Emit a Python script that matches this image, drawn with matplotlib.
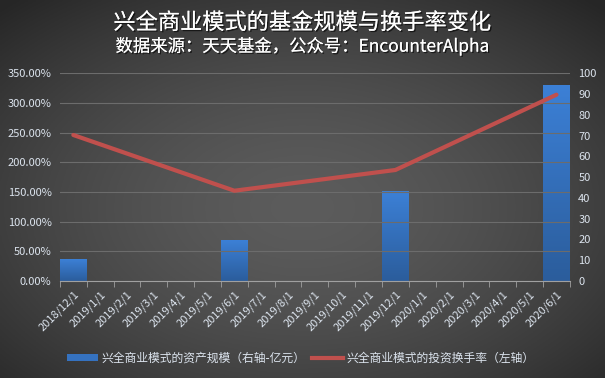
import numpy as np
import matplotlib
matplotlib.use("Agg")
from matplotlib import pyplot as plt
from matplotlib import patheffects as pe
from matplotlib.lines import Line2D
from matplotlib.patches import Patch

plt.rcParams['font.family'] = ['Noto Sans CJK SC', 'DejaVu Sans']

months = ["2018/12/1", "2019/1/1", "2019/2/1", "2019/3/1", "2019/4/1",
          "2019/5/1", "2019/6/1", "2019/7/1", "2019/8/1", "2019/9/1",
          "2019/10/1", "2019/11/1", "2019/12/1", "2020/1/1", "2020/2/1",
          "2020/3/1", "2020/4/1", "2020/5/1", "2020/6/1"]
# asset size (100 million yuan, right axis) and turnover rate (%, left axis)
report_months = ["2018/12/1", "2019/6/1", "2019/12/1", "2020/6/1"]
asset_size = [10.5, 19.6, 43.2, 94.4]
turnover = [2.46, 1.52, 1.87, 3.14]

title = "兴全商业模式的基金规模与换手率变化"
subtitle = "数据来源：天天基金，公众号：EncounterAlpha"
bar_label = "兴全商业模式的资产规模（右轴-亿元）"
line_label = "兴全商业模式的投资换手率（左轴）"

text_color = "#dce4ee"
grid_color = "#6c6c6c"

fig = plt.figure(figsize=(6.05, 3.78), dpi=100)

# radial vignette background
bg = fig.add_axes([0, 0, 1, 1], zorder=-10)
yy, xx = np.mgrid[0:1:200j, 0:1:320j]
r = np.sqrt(((xx - 0.5) / 0.75) ** 2 + ((yy - 0.45) / 0.75) ** 2)
shade = np.clip(0.36 - 0.22 * r ** 1.6, 0.15, 0.36)
bg.imshow(np.dstack([shade] * 3), extent=[0, 1, 0, 1], aspect="auto", origin="lower")
bg.axis("off")

ax = fig.add_axes([0.099, 0.257, 0.843, 0.549])
ax.set_facecolor("none")
ax2 = ax.twinx()
ax.set_zorder(2)
ax.patch.set_visible(False)

x = np.arange(len(months))
xr = np.array([months.index(m) for m in report_months])

bars = ax2.bar(xr, asset_size, width=1.0, color="#3572c0", zorder=2)
grad = np.linspace(0, 1, 100).reshape(-1, 1)
top_c = np.array([0x3c, 0x80, 0xd6]) / 255
bot_c = np.array([0x2b, 0x5d, 0x9c]) / 255
gimg = bot_c + grad[..., None] * (top_c - bot_c)
for b in bars:
    im = ax2.imshow(gimg, extent=[b.get_x(), b.get_x() + b.get_width(), 0, b.get_height()],
                    aspect="auto", origin="lower", zorder=3)
    im.set_clip_path(b)

ax.plot(xr, turnover, color="#c0504d", lw=3, solid_capstyle="round", zorder=5)

ax.set_xlim(-0.5, len(months) - 0.5)
ax.set_ylim(0, 3.5)
ax2.set_ylim(0, 100)
ax.set_yticks(np.arange(0, 3.51, 0.5))
ax.set_yticklabels([f"{v * 100:.2f}%" for v in np.arange(0, 3.51, 0.5)])
ax2.set_yticks(np.arange(0, 101, 10))
ax.yaxis.grid(True, color=grid_color, lw=0.8)
ax.set_axisbelow(True)

ax.set_xticks(x)
ax.set_xticklabels(months, rotation=45, ha="right", rotation_mode="anchor")
ax.set_xticks(np.arange(-0.5, len(months), 1), minor=True)
ax.tick_params(axis="x", which="major", length=0, pad=6, labelsize=8, labelcolor=text_color)
ax.tick_params(axis="x", which="minor", length=4, color="#a0a0a0")
ax.tick_params(axis="y", length=0, labelsize=8, labelcolor=text_color, pad=6)
ax2.tick_params(axis="y", length=0, labelsize=8, labelcolor=text_color, pad=6)

for a in (ax, ax2):
    for s in a.spines.values():
        s.set_visible(False)
ax.spines["bottom"].set_visible(True)
ax.spines["bottom"].set_color("#a0a0a0")

shadow = [pe.withSimplePatchShadow(offset=(1, -1), shadow_rgbFace="black", alpha=0.6), pe.Normal()]
fig.text(0.5, 0.94, title, ha="center", va="center", color="white", fontsize=16,
         fontweight="medium", path_effects=shadow)
fig.text(0.5, 0.878, subtitle, ha="center", va="center", color="white", fontsize=12.5,
         path_effects=shadow)

handles = [Patch(facecolor="#3572c0"), Line2D([], [], color="#c0504d", lw=3)]
fig.legend(handles, [bar_label, line_label], loc="center", bbox_to_anchor=(0.497, 0.053),
           ncol=2, frameon=False, fontsize=8.5, labelcolor=text_color,
           handlelength=2.6, handleheight=0.6, columnspacing=0.6, handletextpad=0.3)

fig.savefig("out.png", dpi=100, facecolor="#3a3a3a")
